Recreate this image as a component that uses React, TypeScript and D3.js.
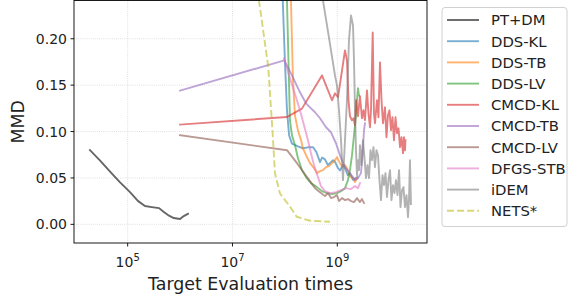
import React from 'react';
import * as d3 from 'd3';

// Each point: [log10(target evaluation times), MMD]
const ptDm: [number, number][] = [
  [4.28, 0.080], [4.47, 0.069], [4.66, 0.057], [4.85, 0.0455], [5.04, 0.035], [5.2, 0.025],
  [5.33, 0.0197], [5.46, 0.0186], [5.6, 0.0175], [5.69, 0.0132], [5.77, 0.010], [5.88, 0.0068],
  [6.0, 0.0057], [6.07, 0.0089], [6.15, 0.0114],
];
const ddsKl: [number, number][] = [
  [7.93, 0.263], [7.96, 0.241], [8.0, 0.177], [8.04, 0.123], [8.08, 0.096], [8.135, 0.087],
  [8.25, 0.084], [8.345, 0.082], [8.44, 0.083], [8.54, 0.083], [8.6, 0.078], [8.67, 0.067],
  [8.71, 0.072], [8.765, 0.070], [8.82, 0.064], [8.86, 0.066], [8.92, 0.069], [8.96, 0.067],
  [9.01, 0.061], [9.05, 0.058], [9.11, 0.064], [9.15, 0.060], [9.2, 0.053], [9.24, 0.055],
  [9.3, 0.048], [9.38, 0.051],
];
const ddsTb: [number, number][] = [
  [8.097, 0.263], [8.116, 0.241], [8.155, 0.155], [8.193, 0.117], [8.25, 0.101], [8.307, 0.091],
  [8.345, 0.082], [8.403, 0.0745], [8.479, 0.0659], [8.556, 0.0605], [8.613, 0.0552], [8.67, 0.0573],
  [8.727, 0.0584], [8.785, 0.0616], [8.842, 0.0627], [8.899, 0.0659], [8.956, 0.0691], [8.994, 0.0724],
  [9.051, 0.0659], [9.09, 0.0627], [9.147, 0.0638], [9.185, 0.0605], [9.242, 0.0519], [9.3, 0.0498],
  [9.338, 0.0455], [9.376, 0.0498],
];
const ddsLv: [number, number][] = [
  [8.002, 0.263], [8.04, 0.241], [8.078, 0.155], [8.097, 0.112], [8.135, 0.096], [8.193, 0.0853],
  [8.25, 0.0713], [8.326, 0.0584], [8.403, 0.0509], [8.498, 0.0444], [8.613, 0.0401], [8.708, 0.0358],
  [8.804, 0.0337], [8.899, 0.0326], [8.994, 0.0337], [9.071, 0.0358], [9.147, 0.039], [9.204, 0.0476],
  [9.242, 0.0584], [9.281, 0.0745], [9.319, 0.096], [9.357, 0.1175], [9.376, 0.1337], [9.395, 0.1466],
  [9.414, 0.139],
];
const cmcdKl: [number, number][] = [
  [6.0, 0.1075], [8.04, 0.1157], [8.326, 0.1247], [8.708, 0.1605], [8.899, 0.1337], [8.956, 0.1412],
  [9.013, 0.1369], [9.071, 0.1584], [9.147, 0.1874], [9.185, 0.1767], [9.214, 0.1337], [9.242, 0.1165],
  [9.281, 0.1122], [9.309, 0.1143], [9.338, 0.1068], [9.357, 0.1337], [9.395, 0.1165], [9.433, 0.138],
  [9.471, 0.1143], [9.5, 0.1229], [9.528, 0.1122], [9.567, 0.1444], [9.595, 0.1197], [9.624, 0.1046],
  [9.643, 0.1229], [9.676, 0.2068], [9.7, 0.1197], [9.719, 0.1089], [9.758, 0.1337], [9.786, 0.1154],
  [9.815, 0.1745], [9.844, 0.1337], [9.872, 0.1089], [9.91, 0.1261], [9.939, 0.0939], [9.967, 0.1175],
  [9.996, 0.1229], [10.025, 0.1014], [10.053, 0.1154], [10.082, 0.0906], [10.111, 0.1154], [10.139, 0.0982],
  [10.168, 0.1035], [10.197, 0.0831], [10.225, 0.0939], [10.254, 0.0767], [10.273, 0.0939], [10.292, 0.0799],
  [10.301, 0.0906],
];
const cmcdTb: [number, number][] = [
  [6.0, 0.1441], [7.989, 0.1767], [8.135, 0.1605], [8.288, 0.1423], [8.403, 0.1304], [8.479, 0.1261],
  [8.575, 0.1208], [8.67, 0.1143], [8.785, 0.1046], [8.88, 0.0992], [8.975, 0.0874], [9.071, 0.0713],
  [9.147, 0.0616], [9.242, 0.0552], [9.338, 0.0476], [9.395, 0.0498], [9.452, 0.0552], [9.481, 0.0745],
  [9.51, 0.1014], [9.529, 0.1089],
];
const cmcdLv: [number, number][] = [
  [6.0, 0.096], [8.04, 0.0799], [8.231, 0.0659], [8.422, 0.0509], [8.575, 0.039], [8.67, 0.0347],
  [8.765, 0.0304], [8.823, 0.0337], [8.88, 0.0283], [8.937, 0.0294], [8.994, 0.0315], [9.033, 0.0251],
  [9.09, 0.0283], [9.147, 0.0261], [9.204, 0.0272], [9.262, 0.0251], [9.319, 0.024], [9.376, 0.0283],
  [9.433, 0.024], [9.471, 0.0272], [9.51, 0.0229],
];
const dfgsStb: [number, number][] = [
  [7.983, 0.1788], [8.097, 0.1573], [8.212, 0.1369], [8.288, 0.1229], [8.365, 0.1068], [8.441, 0.0906],
  [8.498, 0.0767], [8.556, 0.0638], [8.613, 0.0541], [8.689, 0.0412], [8.765, 0.0358], [8.861, 0.0337],
  [8.975, 0.0347], [9.071, 0.0369], [9.166, 0.039], [9.262, 0.038], [9.338, 0.0412], [9.395, 0.039],
  [9.433, 0.0444],
];
const iDem: [number, number][] = [
  [8.67, 0.263], [8.727, 0.241], [8.804, 0.2143], [8.88, 0.1874], [8.956, 0.1605], [8.994, 0.1498],
  [9.033, 0.1229], [9.071, 0.0906], [9.109, 0.0476], [9.147, 0.0906], [9.185, 0.1337], [9.223, 0.1982],
  [9.262, 0.2251], [9.3, 0.2143], [9.319, 0.1767], [9.338, 0.1229], [9.357, 0.0799], [9.376, 0.053],
  [9.395, 0.0691], [9.414, 0.0584], [9.433, 0.0853], [9.462, 0.0638], [9.49, 0.0906], [9.519, 0.0713],
  [9.548, 0.0498], [9.576, 0.0638], [9.605, 0.0498], [9.634, 0.0799], [9.662, 0.0691], [9.691, 0.0831],
  [9.719, 0.0616], [9.748, 0.0799], [9.777, 0.0745], [9.805, 0.0476], [9.834, 0.0261], [9.863, 0.053],
  [9.891, 0.0423], [9.92, 0.0552], [9.948, 0.0294], [9.977, 0.0476], [10.006, 0.0584], [10.034, 0.0261],
  [10.063, 0.0423], [10.092, 0.0337], [10.12, 0.0476], [10.149, 0.0315], [10.178, 0.0584], [10.206, 0.0186],
  [10.235, 0.0369], [10.263, 0.0401], [10.292, 0.0186], [10.321, 0.0315], [10.349, 0.0078], [10.368, 0.0261],
  [10.387, 0.0691], [10.406, 0.0218],
];
const nets: [number, number][] = [
  [7.43, 0.263], [7.506, 0.241], [7.683, 0.1695], [7.767, 0.0978], [7.811, 0.0548], [7.906, 0.0333],
  [8.1, 0.0189], [8.225, 0.0082], [8.48, 0.0039], [8.86, 0.0028],
];

const seriesNames = ['PT+DM', 'DDS-KL', 'DDS-TB', 'DDS-LV', 'CMCD-KL', 'CMCD-TB', 'CMCD-LV', 'DFGS-STB', 'iDEM', 'NETS*'];
const seriesData = [ptDm, ddsKl, ddsTb, ddsLv, cmcdKl, cmcdTb, cmcdLv, dfgsStb, iDem, nets];
const seriesColors = ['#000000', '#1f77b4', '#ff7f0e', '#2ca02c', '#d62728', '#9467bd', '#8c564b', '#e377c2', '#7f7f7f', '#bcbd22'];
const seriesDashed = [false, false, false, false, false, false, false, false, false, true];

const xTickExponents = [5, 7, 9];
const yTicks = [0, 0.05, 0.1, 0.15, 0.2];
const xLabel = 'Target Evaluation times';
const yLabel = 'MMD';

const FONT = 'DejaVu Sans, sans-serif';

export default function App() {
  const left = 74, right = 427, top = 0.5, bottom = 243;
  const x = d3.scaleLog().domain([10 ** 3.976, 10 ** 10.712]).range([left, right]);
  const y = d3.scaleLinear().domain([-0.0201, 0.2412]).range([bottom, top]);
  const line = d3.line<[number, number]>().x(d => x(10 ** d[0])).y(d => y(d[1]));
  const lw = 1.9;
  const dash = `${3.7 * lw},${1.6 * lw}`;

  const legX = 442, legY = 7.5, legW = 125, legH = 219;
  const rowH = 21.2, firstRow = 20;

  return (
    <svg width={575} height={301} style={{ position: 'absolute', left: 0, top: 0 }} fontFamily={FONT}>
      <defs>
        <clipPath id="plotClip">
          <rect x={left} y={top} width={right - left} height={bottom - top} />
        </clipPath>
      </defs>
      <rect x={0} y={0} width={575} height={301} fill="#fff" />
      {/* grid */}
      {xTickExponents.map(e => (
        <line key={'gx' + e} x1={x(10 ** e)} x2={x(10 ** e)} y1={top} y2={bottom}
          stroke="#b0b0b0" strokeOpacity={0.6} strokeWidth={0.8} strokeDasharray="0.8,1.3" />
      ))}
      {yTicks.map(t => (
        <line key={'gy' + t} x1={left} x2={right} y1={y(t)} y2={y(t)}
          stroke="#b0b0b0" strokeOpacity={0.6} strokeWidth={0.8} strokeDasharray="0.8,1.3" />
      ))}
      {/* series */}
      <g clipPath="url(#plotClip)">
        {seriesData.map((d, i) => (
          <path key={seriesNames[i]} d={line(d) || ''} fill="none" stroke={seriesColors[i]}
            strokeOpacity={0.6} strokeWidth={lw} strokeLinejoin="round" strokeLinecap={seriesDashed[i] ? 'butt' : 'square'}
            strokeDasharray={seriesDashed[i] ? dash : undefined} />
        ))}
      </g>
      {/* frame */}
      <rect x={left} y={top} width={right - left} height={bottom - top} fill="none" stroke="#000" strokeWidth={0.9} />
      {/* x ticks */}
      {xTickExponents.map(e => (
        <g key={'xt' + e} transform={`translate(${x(10 ** e)},${bottom})`}>
          <line y1={0} y2={3.5} stroke="#000" strokeWidth={0.9} />
          <text y={23.5} textAnchor="middle" fontSize={14} fill="#222">
            10<tspan dy={-6} fontSize={10}>{e}</tspan>
          </text>
        </g>
      ))}
      {/* y ticks */}
      {yTicks.map(t => (
        <g key={'yt' + t} transform={`translate(${left},${y(t)})`}>
          <line x1={-3.5} x2={0} stroke="#000" strokeWidth={0.9} />
          <text x={-7} dy="0.36em" textAnchor="end" fontSize={14} fill="#222">{t.toFixed(2)}</text>
        </g>
      ))}
      <text x={(left + right) / 2} y={289.5} textAnchor="middle" fontSize={17.4} fill="#222">{xLabel}</text>
      <text transform={`translate(24,${(top + bottom) / 2}) rotate(-90)`} textAnchor="middle" fontSize={17.4} fill="#222">{yLabel}</text>
      {/* legend */}
      <rect x={legX} y={legY} width={legW} height={legH} rx={3} fill="#fff" fillOpacity={0.8} stroke="#cccccc" strokeWidth={0.9} />
      {seriesNames.map((n, i) => {
        const cy = firstRow + i * rowH;
        return (
          <g key={'lg' + n}>
            <line x1={447} x2={479} y1={cy} y2={cy} stroke={seriesColors[i]} strokeOpacity={0.6} strokeWidth={lw}
              strokeDasharray={seriesDashed[i] ? dash : undefined} />
            <text x={491} y={cy} dy="0.36em" fontSize={14.8} fill="#222">{n}</text>
          </g>
        );
      })}
    </svg>
  );
}
